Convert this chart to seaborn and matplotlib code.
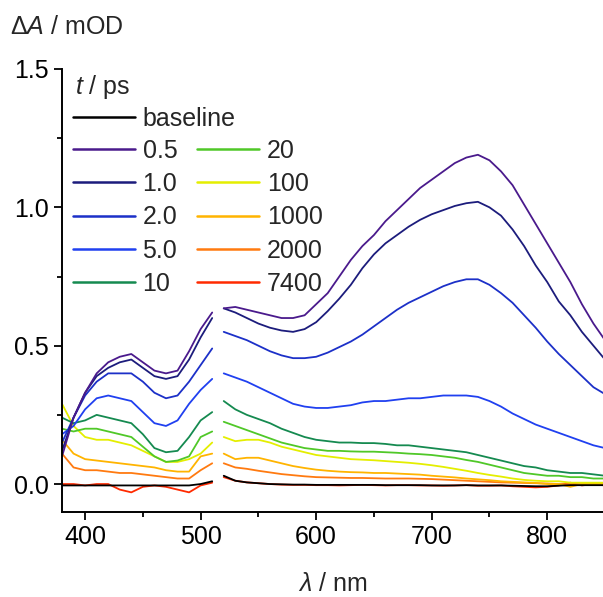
import numpy as np
import pandas as pd
import matplotlib
matplotlib.use("Agg")
import matplotlib.pyplot as plt
from matplotlib.lines import Line2D
from matplotlib.ticker import MultipleLocator, FormatStrFormatter
import seaborn as sns

# ---------------- data ----------------
wl_left = [380, 390, 400, 410, 420, 430, 440, 450, 460, 470, 480, 490, 500, 510]
wl_right = list(range(520, 851, 10))

labels = ["baseline", "0.5", "1.0", "2.0", "5.0", "10", "20", "100", "1000", "2000", "7400"]
colors = ["#000000", "#4a1a8c", "#1c1c7c", "#1c30c8", "#2040f0", "#158a50",
          "#50c828", "#e4ee00", "#ffb400", "#ff7a10", "#ff2a00"]

left_baseline = [-0.005, -0.005, -0.005, -0.005, -0.005, -0.005, -0.005, -0.005, -0.005, -0.005, -0.005, -0.005, 0.0, 0.01]
left_0p5 = [0.10, 0.24, 0.33, 0.40, 0.44, 0.46, 0.47, 0.44, 0.41, 0.40, 0.41, 0.48, 0.56, 0.62]
left_1p0 = [0.12, 0.24, 0.33, 0.39, 0.42, 0.44, 0.45, 0.42, 0.39, 0.38, 0.39, 0.45, 0.53, 0.60]
left_2p0 = [0.15, 0.24, 0.32, 0.37, 0.40, 0.40, 0.40, 0.37, 0.33, 0.31, 0.32, 0.37, 0.43, 0.49]
left_5p0 = [0.18, 0.21, 0.27, 0.31, 0.32, 0.31, 0.30, 0.26, 0.22, 0.21, 0.23, 0.29, 0.34, 0.38]
left_10 = [0.24, 0.22, 0.23, 0.25, 0.24, 0.23, 0.22, 0.18, 0.13, 0.115, 0.12, 0.17, 0.23, 0.26]
left_20 = [0.20, 0.19, 0.20, 0.20, 0.19, 0.18, 0.17, 0.135, 0.10, 0.08, 0.085, 0.10, 0.17, 0.19]
left_100 = [0.29, 0.21, 0.17, 0.16, 0.16, 0.15, 0.14, 0.12, 0.10, 0.08, 0.08, 0.09, 0.11, 0.15]
left_1000 = [0.16, 0.11, 0.09, 0.085, 0.08, 0.075, 0.07, 0.065, 0.06, 0.05, 0.045, 0.045, 0.10, 0.11]
left_2000 = [0.11, 0.06, 0.05, 0.05, 0.045, 0.04, 0.04, 0.035, 0.03, 0.025, 0.02, 0.02, 0.05, 0.075]
left_7400 = [0.0, 0.0, -0.005, 0.0, 0.0, -0.02, -0.03, -0.01, -0.005, -0.01, -0.02, -0.03, -0.005, 0.005]

right_baseline = [0.03, 0.012, 0.006, 0.003, 0.0, -0.001, -0.002, -0.002, -0.003, -0.003, -0.003, -0.003,
                  -0.003, -0.003, -0.004, -0.004, -0.004, -0.004, -0.005, -0.005, -0.005, -0.004, -0.005,
                  -0.005, -0.005, -0.006, -0.007, -0.008, -0.008, -0.006, -0.004, -0.004, -0.004, -0.004]
right_0p5 = [0.635, 0.64, 0.63, 0.62, 0.61, 0.60, 0.60, 0.61, 0.65, 0.69, 0.75, 0.81, 0.86, 0.90, 0.95, 0.99,
             1.03, 1.07, 1.10, 1.13, 1.16, 1.18, 1.19, 1.17, 1.13, 1.08, 1.01, 0.94, 0.87, 0.80, 0.73, 0.65,
             0.58, 0.52]
right_1p0 = [0.635, 0.62, 0.60, 0.58, 0.565, 0.555, 0.55, 0.56, 0.585, 0.625, 0.67, 0.72, 0.78, 0.83, 0.87,
             0.90, 0.93, 0.955, 0.975, 0.99, 1.005, 1.015, 1.02, 1.00, 0.97, 0.92, 0.86, 0.79, 0.73, 0.66,
             0.61, 0.55, 0.50, 0.45]
right_2p0 = [0.55, 0.535, 0.52, 0.50, 0.48, 0.465, 0.455, 0.455, 0.46, 0.475, 0.495, 0.515, 0.54, 0.57, 0.60,
             0.63, 0.655, 0.675, 0.695, 0.715, 0.73, 0.74, 0.74, 0.72, 0.69, 0.655, 0.61, 0.565, 0.515, 0.47,
             0.43, 0.39, 0.35, 0.325]
right_5p0 = [0.40, 0.385, 0.37, 0.35, 0.33, 0.31, 0.29, 0.28, 0.275, 0.275, 0.28, 0.285, 0.295, 0.30, 0.30,
             0.305, 0.31, 0.31, 0.315, 0.32, 0.32, 0.32, 0.315, 0.30, 0.28, 0.255, 0.235, 0.215, 0.20, 0.185,
             0.17, 0.155, 0.14, 0.13]
right_10 = [0.30, 0.27, 0.25, 0.235, 0.22, 0.20, 0.185, 0.17, 0.16, 0.155, 0.15, 0.15, 0.148, 0.148, 0.145,
            0.14, 0.14, 0.135, 0.13, 0.125, 0.12, 0.115, 0.105, 0.095, 0.085, 0.075, 0.065, 0.06, 0.05, 0.045,
            0.04, 0.04, 0.035, 0.03]
right_20 = [0.225, 0.21, 0.195, 0.18, 0.165, 0.15, 0.14, 0.13, 0.125, 0.12, 0.12, 0.118, 0.117, 0.117, 0.115,
            0.113, 0.11, 0.108, 0.105, 0.10, 0.095, 0.087, 0.08, 0.07, 0.06, 0.05, 0.04, 0.035, 0.03, 0.03,
            0.025, 0.025, 0.02, 0.02]
right_100 = [0.17, 0.155, 0.16, 0.16, 0.15, 0.135, 0.125, 0.115, 0.105, 0.10, 0.095, 0.09, 0.088, 0.086, 0.083,
             0.08, 0.077, 0.073, 0.068, 0.062, 0.055, 0.048, 0.04, 0.033, 0.027, 0.02, 0.015, 0.012, 0.01,
             0.01, 0.005, 0.005, 0.005, 0.005]
right_1000 = [0.11, 0.09, 0.095, 0.095, 0.085, 0.075, 0.065, 0.058, 0.052, 0.048, 0.045, 0.043, 0.042, 0.04,
              0.04, 0.038, 0.036, 0.034, 0.03, 0.027, 0.024, 0.02, 0.017, 0.014, 0.01, 0.008, 0.006, 0.004,
              0.0, 0.0, -0.01, 0.0, 0.0, 0.0]
right_2000 = [0.075, 0.06, 0.055, 0.048, 0.042, 0.036, 0.032, 0.028, 0.025, 0.024, 0.023, 0.022, 0.022, 0.021,
              0.02, 0.02, 0.02, 0.019, 0.018, 0.016, 0.014, 0.012, 0.01, 0.008, 0.006, 0.005, 0.004, 0.003,
              0.002, 0.0, 0.0, 0.0, 0.0, 0.0]
right_7400 = [0.025, 0.012, 0.006, 0.003, 0.0, -0.002, -0.003, -0.003, -0.004, -0.004, -0.005, -0.004, -0.003,
              -0.004, -0.005, -0.004, -0.004, -0.005, -0.005, -0.006, -0.005, -0.004, -0.006, -0.006, -0.005,
              -0.008, -0.01, -0.012, -0.01, -0.005, 0.005, -0.005, 0.0, -0.005]

left_series = [left_baseline, left_0p5, left_1p0, left_2p0, left_5p0, left_10, left_20, left_100,
               left_1000, left_2000, left_7400]
right_series = [right_baseline, right_0p5, right_1p0, right_2p0, right_5p0, right_10, right_20, right_100,
                right_1000, right_2000, right_7400]

rows = []
for lab, ls, rs in zip(labels, left_series, right_series):
    for w, v in zip(wl_left, ls):
        rows.append((lab, "L", w, v))
    for w, v in zip(wl_right, rs):
        rows.append((lab, "R", w, v))
df = pd.DataFrame(rows, columns=["t", "seg", "wl", "dA"])

# ---------------- style ----------------
sns.set_theme(style="ticks")
plt.rcParams["font.family"] = ["Liberation Sans", "DejaVu Sans"]
plt.rcParams["mathtext.fontset"] = "custom"
plt.rcParams["mathtext.rm"] = "Liberation Sans"
plt.rcParams["mathtext.it"] = "Liberation Sans:italic"

FS = 18
W, H = 603, 597
fig = plt.figure(figsize=(W / 100, H / 100), dpi=100)
ax = fig.add_axes([62 / W, (H - 512) / H, 543 / W, 443 / H])

palette = dict(zip(labels, colors))
for seg in ["L", "R"]:
    for lab in labels[::-1]:
        sub = df[(df.seg == seg) & (df.t == lab)]
        sns.lineplot(data=sub, x="wl", y="dA", color=palette[lab], lw=1.3,
                     estimator=None, sort=False, legend=False, ax=ax)

ax.set_xlim(380, 850)
ax.set_ylim(-0.101, 1.5)
ax.xaxis.set_major_locator(MultipleLocator(100))
ax.xaxis.set_minor_locator(MultipleLocator(50))
ax.yaxis.set_major_locator(MultipleLocator(0.5))
ax.yaxis.set_minor_locator(MultipleLocator(0.25))
ax.yaxis.set_major_formatter(FormatStrFormatter("%.1f"))
for s in ["top", "right"]:
    ax.spines[s].set_visible(False)
for s in ["left", "bottom"]:
    ax.spines[s].set_linewidth(1.4)
    ax.spines[s].set_color("black")
ax.tick_params(which="major", direction="out", length=6, width=1.3, labelsize=FS, color="black",
               labelcolor="black", pad=3.5)
ax.tick_params(which="minor", direction="out", length=3.5, width=1.3, color="black")
ax.set_xlabel("")
ax.set_ylabel("")

fig.text(10 / W, 1 - 27 / H, "Δ$\\mathit{A}$ / mOD", fontsize=FS, va="center", ha="left")
fig.text(333 / W, 1 - 584 / H, "$\\mathit{λ}$ / nm", fontsize=FS, va="center", ha="center")
fig.text(75 / W, 1 - 87 / H, "$\\mathit{t}$ / ps", fontsize=FS, va="center", ha="left")

# legends
h_base = [Line2D([], [], color=colors[0], lw=1.8)]
leg1 = ax.legend(h_base, ["baseline"], loc="upper left",
                 bbox_to_anchor=(73 / W, 1 - 107 / H), bbox_transform=fig.transFigure,
                 frameon=False, fontsize=FS, handlelength=2.48,
                 handletextpad=0.3, borderpad=0, borderaxespad=0)
ax.add_artist(leg1)
handles = [Line2D([], [], color=c, lw=1.8) for c in colors[1:]]
ax.legend(handles, labels[1:], ncol=2, loc="upper left",
          bbox_to_anchor=(73 / W, 1 - 139 / H), bbox_transform=fig.transFigure,
          frameon=False, fontsize=FS, handlelength=2.48, handletextpad=0.3,
          labelspacing=0.37, columnspacing=0.8, borderpad=0, borderaxespad=0)

fig.savefig("out.png", dpi=100)
